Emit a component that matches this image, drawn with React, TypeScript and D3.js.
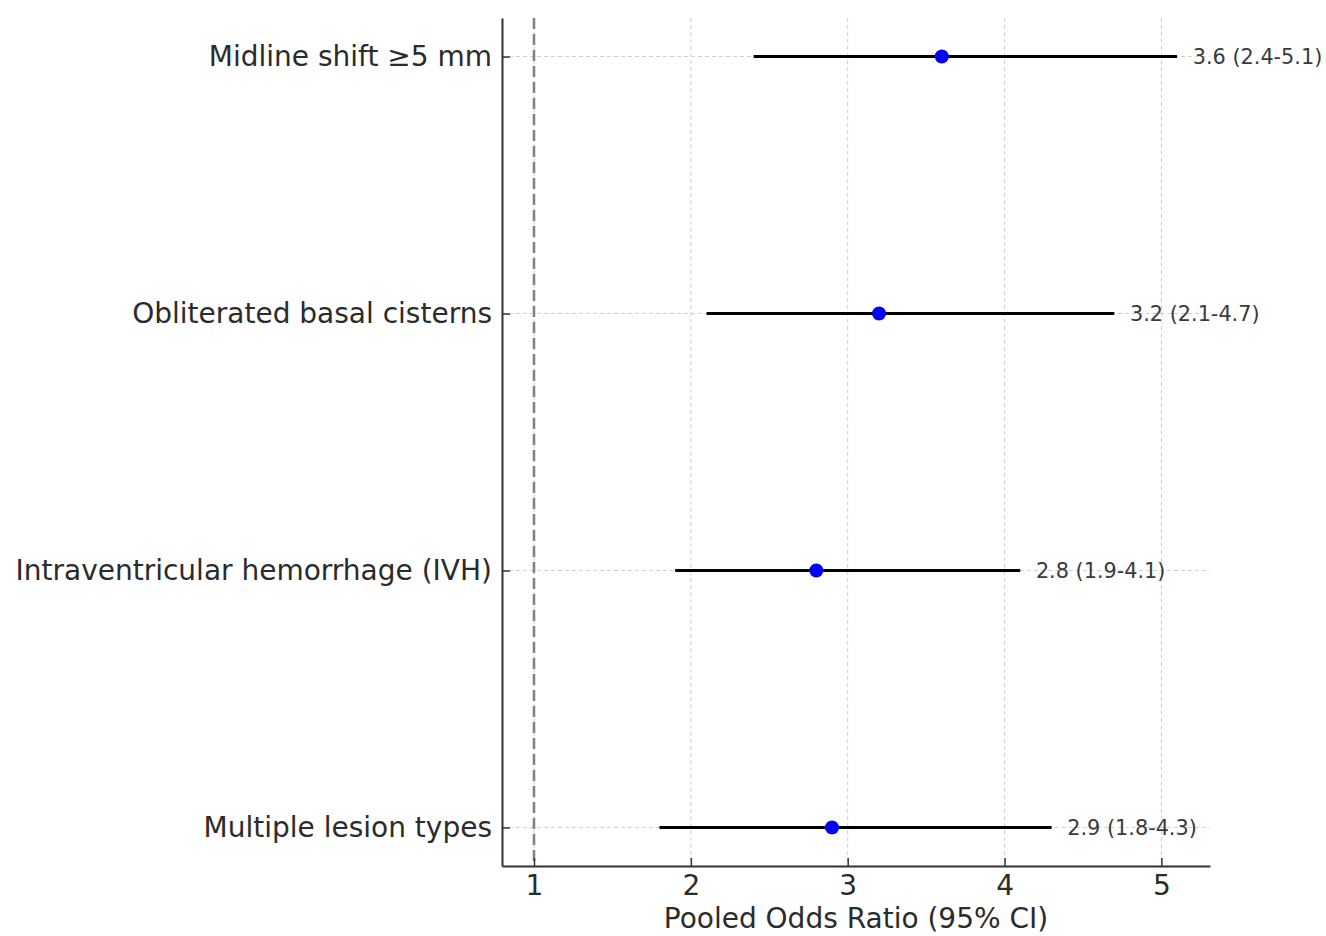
import React, { useRef, useEffect } from "react";
import * as d3 from "d3";

// forest plot data (top to bottom)
const factors = [
  "Midline shift \u22655 mm",
  "Obliterated basal cisterns",
  "Intraventricular hemorrhage (IVH)",
  "Multiple lesion types",
];
const oddsRatios = [3.6, 3.2, 2.8, 2.9];
const lowerCI = [2.4, 2.1, 1.9, 1.8];
const upperCI = [5.1, 4.7, 4.1, 4.3];
const xTicks = [1, 2, 3, 4, 5];

const WIDTH = 1326;
const HEIGHT = 936;
const margin = { top: 18, right: 116, bottom: 70, left: 502 };
const FONT = "'DejaVu Sans', sans-serif";

const App = () => {
  const svgRef = useRef<SVGSVGElement>(null);

  useEffect(() => {
    const root = d3.select(svgRef.current);
    root.selectAll("*").remove();

    const chartWidth = WIDTH - margin.left - margin.right;
    const chartHeight = HEIGHT - margin.top - margin.bottom;

    const svg = root
      .append("g")
      .attr("transform", `translate(${margin.left},${margin.top})`);

    const x = d3.scaleLinear().domain([0.796, 5.31]).range([0, chartWidth]);
    // row 0 at top, like matplotlib with inverted y
    const y = d3
      .scaleLinear()
      .domain([-0.15, factors.length - 1 + 0.15])
      .range([0, chartHeight]);

    // grid
    svg
      .append("g")
      .selectAll("line")
      .data(xTicks)
      .enter()
      .append("line")
      .attr("x1", (d) => x(d))
      .attr("x2", (d) => x(d))
      .attr("y1", 0)
      .attr("y2", chartHeight)
      .attr("stroke", "#cfcfcf")
      .attr("stroke-width", 1)
      .attr("stroke-dasharray", "4,3");

    svg
      .append("g")
      .selectAll("line")
      .data(factors)
      .enter()
      .append("line")
      .attr("x1", 0)
      .attr("x2", chartWidth)
      .attr("y1", (_d, i) => y(i))
      .attr("y2", (_d, i) => y(i))
      .attr("stroke", "#cfcfcf")
      .attr("stroke-width", 1)
      .attr("stroke-dasharray", "4,3");

    // reference line at OR = 1
    svg
      .append("line")
      .attr("x1", x(1))
      .attr("x2", x(1))
      .attr("y1", 0)
      .attr("y2", chartHeight)
      .attr("stroke", "#808080")
      .attr("stroke-width", 2.5)
      .attr("stroke-dasharray", "11,5");

    // CI lines
    svg
      .append("g")
      .selectAll("line")
      .data(factors)
      .enter()
      .append("line")
      .attr("x1", (_d, i) => x(lowerCI[i]))
      .attr("x2", (_d, i) => x(upperCI[i]))
      .attr("y1", (_d, i) => y(i))
      .attr("y2", (_d, i) => y(i))
      .attr("stroke", "#000")
      .attr("stroke-width", 3);

    // point estimates
    svg
      .append("g")
      .selectAll("circle")
      .data(factors)
      .enter()
      .append("circle")
      .attr("cx", (_d, i) => x(oddsRatios[i]))
      .attr("cy", (_d, i) => y(i))
      .attr("r", 7)
      .attr("fill", "#0000ff");

    // annotations
    svg
      .append("g")
      .selectAll("text")
      .data(factors)
      .enter()
      .append("text")
      .attr("x", (_d, i) => x(upperCI[i] + 0.1))
      .attr("y", (_d, i) => y(i))
      .attr("dy", "0.35em")
      .attr("font-family", FONT)
      .attr("font-size", 20.8)
      .attr("fill", "#3a3a3a")
      .text((_d, i) => `${oddsRatios[i].toFixed(1)} (${lowerCI[i].toFixed(1)}-${upperCI[i].toFixed(1)})`);

    // x axis
    const xAxis = svg
      .append("g")
      .attr("transform", `translate(0,${chartHeight})`)
      .call(
        d3
          .axisBottom(x)
          .tickValues(xTicks)
          .tickFormat(d3.format("d"))
          .tickSizeInner(-8)
          .tickSizeOuter(0)
          .tickPadding(9)
      );
    xAxis.select(".domain").attr("stroke", "#333").attr("stroke-width", 2);
    xAxis.selectAll(".tick line").attr("stroke", "#333").attr("stroke-width", 1.5);
    xAxis
      .selectAll("text")
      .attr("font-family", FONT)
      .attr("font-size", 28)
      .attr("fill", "#2b2b2b");

    // y axis
    const yAxis = svg.append("g").call(
      d3
        .axisLeft(y)
        .tickValues(d3.range(factors.length))
        .tickFormat((d) => factors[d as number])
        .tickSizeInner(-8)
        .tickSizeOuter(0)
        .tickPadding(10)
    );
    yAxis.select(".domain").attr("stroke", "#333").attr("stroke-width", 2);
    yAxis.selectAll(".tick line").attr("stroke", "#333").attr("stroke-width", 1.5);
    yAxis
      .selectAll("text")
      .attr("font-family", FONT)
      .attr("font-size", 28)
      .attr("fill", "#2b2b2b");

    // x axis label
    svg
      .append("text")
      .attr("x", chartWidth / 2)
      .attr("y", chartHeight + 62)
      .attr("text-anchor", "middle")
      .attr("font-family", FONT)
      .attr("font-size", 28)
      .attr("fill", "#2b2b2b")
      .text("Pooled Odds Ratio (95% CI)");
  }, []);

  return (
    <svg
      ref={svgRef}
      width={WIDTH}
      height={HEIGHT}
      style={{ position: "absolute", left: 0, top: 0, background: "#fff" }}
    ></svg>
  );
};

export default App;
